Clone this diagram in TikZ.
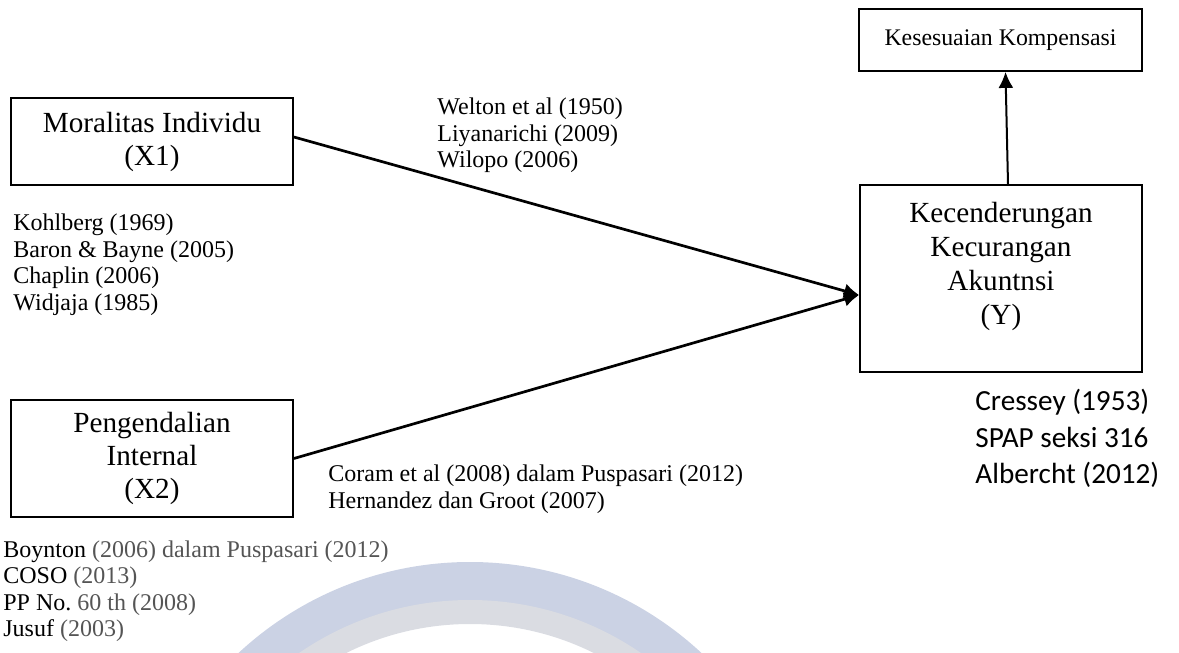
\documentclass[tikz,border=0pt]{standalone}
\usepackage{fontspec}
\setmainfont{Liberation Serif}
\newfontfamily\calibrifont{Carlito}
\usepackage{tikz}
\usetikzlibrary{arrows.meta}

\definecolor{fadegray}{RGB}{85,85,85}
\definecolor{ringblue}{RGB}{203,210,228}
\definecolor{ringgray}{RGB}{218,220,226}

\begin{document}
\begin{tikzpicture}[x=0.5pt,y=-0.5pt,
  varbox/.style={draw,line width=0.9pt,align=center,inner sep=0pt,font=\fontsize{14.6}{16.5}\selectfont},
  reflist/.style={anchor=north west,align=left,inner sep=0pt,font=\fontsize{12}{13.3}\selectfont},
  arr/.style={line width=1.35pt,-{Latex[length=7.5pt,width=7.5pt]}}]
  \useasboundingbox (0,0) rectangle (1179,653);
  %watermark
  \begin{scope}
    \clip (0,0) rectangle (1179,653);
    \draw[ringblue,line width=22pt] (470,902) circle[radius=318];
    \draw[ringgray,line width=12pt] (470,902) circle[radius=290];
  \end{scope}

  %left
  %upper
  \node[varbox,name=x1,at={(152,141.5)},minimum width=141pt,minimum height=43.5pt]{Moralitas Individu\\(X1)};
  \node[reflist,name=x1refs,at={(13,213.5)}]{Kohlberg (1969)\\Baron \& Bayne (2005)\\Chaplin (2006)\\Widjaja (1985)};
  %lower
  \node[varbox,name=x2,at={(152,458.5)},minimum width=141pt,minimum height=58.5pt]{Pengendalian\\Internal\\(X2)};
  \node[reflist,name=x2refs,at={(3,540)}]{Boynton \textcolor{fadegray}{(2006) dalam Puspasari (2012)}\\COSO \textcolor{fadegray}{(2013)}\\PP No.\ \textcolor{fadegray}{60 th (2008)}\\Jusuf \textcolor{fadegray}{(2003)}};

  %middle
  \node[reflist,name=x1path,at={(437,97.5)}]{Welton et al (1950)\\Liyanarichi (2009)\\Wilopo (2006)};
  \node[reflist,name=x2path,at={(328,464.5)}]{Coram et al (2008) dalam Puspasari (2012)\\Hernandez dan Groot (2007)};

  %right
  \node[varbox,name=kk,at={(1000.5,40)},minimum width=141.5pt,minimum height=31pt,font=\fontsize{11.9}{14}\selectfont]{Kesesuaian Kompensasi};
  \node[varbox,name=y,at={(1001,278.5)},minimum width=141pt,minimum height=93.5pt,text depth=14.7pt,font=\fontsize{14.6}{17}\selectfont]{Kecenderungan\\Kecurangan\\Akuntnsi\\(Y)};
  \node[reflist,name=yrefs,at={(975,389)},font=\calibrifont\fontsize{14.6}{18.25}\selectfont]{Cressey (1953)\\SPAP seksi 316\\Albercht (2012)};

  %arrows
  \coordinate (meet) at ([yshift=-8.25pt]y.west);
  \draw[arr] ([yshift=2.25pt]x1.east) -- (meet);
  \draw[arr] (x2.east) -- (meet);
  \draw[line width=1pt,-{Latex[length=8pt,width=7.5pt]}] ([xshift=3.5pt]y.north) -- ([xshift=2.5pt]kk.south);
\end{tikzpicture}
\end{document}
